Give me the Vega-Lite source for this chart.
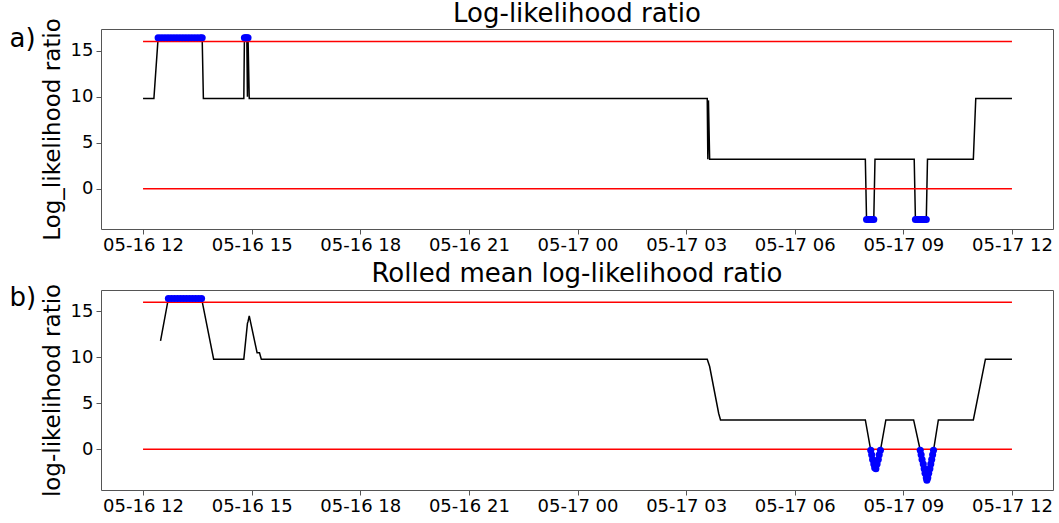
{
  "$schema": "https://vega.github.io/schema/vega-lite/v6.json",
  "padding": {"left": 8, "top": 0, "right": 5, "bottom": 3},
  "spacing": 5,
  "config": {
    "font": "DejaVu Sans",
    "view": {"stroke": "#555555", "strokeWidth": 1},
    "axis": {"grid": false, "domain": false, "tickColor": "#555555", "tickSize": 5, "labelFontSize": 18, "labelColor": "#000000", "titleFontWeight": "normal", "titleFontSize": 23, "titleColor": "#000000"},
    "title": {"fontSize": 26, "fontWeight": "normal", "color": "#000000"}
  },
  "datasets": {
    "thr": [
      {"v": 0, "t1": "2019-05-16T12:00:00", "t2": "2019-05-17T12:00:00"},
      {"v": 16, "t1": "2019-05-16T12:00:00", "t2": "2019-05-17T12:00:00"}
    ],
    "a": [
      {"t": "2019-05-16T12:00:00", "v": 9.8},
      {"t": "2019-05-16T12:18:00", "v": 9.8},
      {"t": "2019-05-16T12:25:00", "v": 16.4},
      {"t": "2019-05-16T12:30:00", "v": 16.4},
      {"t": "2019-05-16T12:35:00", "v": 16.4},
      {"t": "2019-05-16T12:40:00", "v": 16.4},
      {"t": "2019-05-16T12:45:00", "v": 16.4},
      {"t": "2019-05-16T12:50:00", "v": 16.4},
      {"t": "2019-05-16T12:55:00", "v": 16.4},
      {"t": "2019-05-16T13:00:00", "v": 16.4},
      {"t": "2019-05-16T13:05:00", "v": 16.4},
      {"t": "2019-05-16T13:10:00", "v": 16.4},
      {"t": "2019-05-16T13:15:00", "v": 16.4},
      {"t": "2019-05-16T13:20:00", "v": 16.4},
      {"t": "2019-05-16T13:25:00", "v": 16.4},
      {"t": "2019-05-16T13:30:00", "v": 16.4},
      {"t": "2019-05-16T13:35:00", "v": 16.4},
      {"t": "2019-05-16T13:38:00", "v": 16.4},
      {"t": "2019-05-16T13:40:00", "v": 9.8},
      {"t": "2019-05-16T14:47:00", "v": 9.8},
      {"t": "2019-05-16T14:48:00", "v": 16.4},
      {"t": "2019-05-16T14:50:00", "v": 16.4},
      {"t": "2019-05-16T14:52:00", "v": 16.4},
      {"t": "2019-05-16T14:53:00", "v": 10.0},
      {"t": "2019-05-16T14:54:00", "v": 16.4},
      {"t": "2019-05-16T14:56:00", "v": 9.8},
      {"t": "2019-05-17T03:35:00", "v": 9.8},
      {"t": "2019-05-17T03:36:00", "v": 3.2},
      {"t": "2019-05-17T03:37:00", "v": 9.6},
      {"t": "2019-05-17T03:39:00", "v": 3.2},
      {"t": "2019-05-17T07:57:00", "v": 3.2},
      {"t": "2019-05-17T07:59:00", "v": -3.35},
      {"t": "2019-05-17T08:02:00", "v": -3.35},
      {"t": "2019-05-17T08:05:00", "v": -3.35},
      {"t": "2019-05-17T08:08:00", "v": -3.35},
      {"t": "2019-05-17T08:11:00", "v": -3.35},
      {"t": "2019-05-17T08:13:00", "v": 3.2},
      {"t": "2019-05-17T09:18:00", "v": 3.2},
      {"t": "2019-05-17T09:20:00", "v": -3.35},
      {"t": "2019-05-17T09:23:00", "v": -3.35},
      {"t": "2019-05-17T09:26:00", "v": -3.35},
      {"t": "2019-05-17T09:29:00", "v": -3.35},
      {"t": "2019-05-17T09:32:00", "v": -3.35},
      {"t": "2019-05-17T09:35:00", "v": -3.35},
      {"t": "2019-05-17T09:38:00", "v": -3.35},
      {"t": "2019-05-17T09:40:00", "v": 3.2},
      {"t": "2019-05-17T10:56:00", "v": 3.2},
      {"t": "2019-05-17T11:00:00", "v": 9.8},
      {"t": "2019-05-17T12:00:00", "v": 9.8}
    ],
    "b": [
      {"t": "2019-05-16T12:29:00", "v": 11.8},
      {"t": "2019-05-16T12:42:00", "v": 16.4},
      {"t": "2019-05-16T12:47:00", "v": 16.4},
      {"t": "2019-05-16T12:52:00", "v": 16.4},
      {"t": "2019-05-16T12:57:00", "v": 16.4},
      {"t": "2019-05-16T13:02:00", "v": 16.4},
      {"t": "2019-05-16T13:07:00", "v": 16.4},
      {"t": "2019-05-16T13:12:00", "v": 16.4},
      {"t": "2019-05-16T13:17:00", "v": 16.4},
      {"t": "2019-05-16T13:22:00", "v": 16.4},
      {"t": "2019-05-16T13:27:00", "v": 16.4},
      {"t": "2019-05-16T13:32:00", "v": 16.4},
      {"t": "2019-05-16T13:37:00", "v": 16.4},
      {"t": "2019-05-16T13:57:00", "v": 9.8},
      {"t": "2019-05-16T14:47:00", "v": 9.8},
      {"t": "2019-05-16T14:53:00", "v": 13.7},
      {"t": "2019-05-16T14:54:00", "v": 13.9},
      {"t": "2019-05-16T14:56:00", "v": 14.5},
      {"t": "2019-05-16T15:09:00", "v": 10.5},
      {"t": "2019-05-16T15:13:00", "v": 10.5},
      {"t": "2019-05-16T15:16:00", "v": 9.8},
      {"t": "2019-05-17T03:35:00", "v": 9.8},
      {"t": "2019-05-17T03:39:00", "v": 9.0},
      {"t": "2019-05-17T03:54:00", "v": 3.9},
      {"t": "2019-05-17T03:57:00", "v": 3.2},
      {"t": "2019-05-17T07:57:00", "v": 3.2},
      {"t": "2019-05-17T08:06:00", "v": -0.1},
      {"t": "2019-05-17T08:07:30", "v": -0.6},
      {"t": "2019-05-17T08:09:00", "v": -1.1},
      {"t": "2019-05-17T08:11:00", "v": -1.6},
      {"t": "2019-05-17T08:12:30", "v": -2.0},
      {"t": "2019-05-17T08:14:30", "v": -2.1},
      {"t": "2019-05-17T08:16:30", "v": -1.6},
      {"t": "2019-05-17T08:18:30", "v": -1.1},
      {"t": "2019-05-17T08:20:00", "v": -0.6},
      {"t": "2019-05-17T08:22:00", "v": -0.1},
      {"t": "2019-05-17T08:31:00", "v": 3.2},
      {"t": "2019-05-17T09:17:00", "v": 3.2},
      {"t": "2019-05-17T09:28:00", "v": -0.1},
      {"t": "2019-05-17T09:29:30", "v": -0.6},
      {"t": "2019-05-17T09:31:00", "v": -1.1},
      {"t": "2019-05-17T09:33:00", "v": -1.6},
      {"t": "2019-05-17T09:34:30", "v": -2.1},
      {"t": "2019-05-17T09:36:00", "v": -2.6},
      {"t": "2019-05-17T09:38:00", "v": -3.1},
      {"t": "2019-05-17T09:39:00", "v": -3.35},
      {"t": "2019-05-17T09:40:30", "v": -3.1},
      {"t": "2019-05-17T09:42:00", "v": -2.6},
      {"t": "2019-05-17T09:44:00", "v": -2.1},
      {"t": "2019-05-17T09:45:30", "v": -1.6},
      {"t": "2019-05-17T09:47:00", "v": -1.1},
      {"t": "2019-05-17T09:48:30", "v": -0.6},
      {"t": "2019-05-17T09:50:00", "v": -0.1},
      {"t": "2019-05-17T09:58:00", "v": 3.2},
      {"t": "2019-05-17T10:56:00", "v": 3.2},
      {"t": "2019-05-17T11:16:00", "v": 9.8},
      {"t": "2019-05-17T12:00:00", "v": 9.8}
    ]
  },
  "vconcat": [
    {
      "title": {"text": "Log-likelihood ratio", "dy": 13},
      "width": 952,
      "height": 200,
      "layer": [
        {
          "data": {"name": "a"},
          "mark": {"type": "line", "color": "#000000", "strokeWidth": 1.5},
          "encoding": {
            "x": {"field": "t", "type": "temporal", "scale": {"domain": [{"year": 2019, "month": 5, "date": 16, "hours": 10, "minutes": 50, "seconds": 20}, {"year": 2019, "month": 5, "date": 17, "hours": 13, "minutes": 8}]}, "axis": {"title": null, "format": "%m-%d %H", "labelFlush": false, "labelPadding": 2, "values": [{"year": 2019, "month": 5, "date": 16, "hours": 12}, {"year": 2019, "month": 5, "date": 16, "hours": 15}, {"year": 2019, "month": 5, "date": 16, "hours": 18}, {"year": 2019, "month": 5, "date": 16, "hours": 21}, {"year": 2019, "month": 5, "date": 17, "hours": 0}, {"year": 2019, "month": 5, "date": 17, "hours": 3}, {"year": 2019, "month": 5, "date": 17, "hours": 6}, {"year": 2019, "month": 5, "date": 17, "hours": 9}, {"year": 2019, "month": 5, "date": 17, "hours": 12}]}},
            "y": {"field": "v", "type": "quantitative", "scale": {"domain": [-4.38, 17.36], "nice": false, "zero": false}, "axis": {"title": "Log_likelihood ratio", "values": [0, 5, 10, 15], "labelPadding": 3, "titlePadding": 6}}
          }
        },
        {
          "data": {"name": "thr"},
          "mark": {"type": "rule", "color": "#ff0000", "strokeWidth": 1.5},
          "encoding": {
            "x": {"field": "t1", "type": "temporal"},
            "x2": {"field": "t2"},
            "y": {"field": "v", "type": "quantitative", "axis": {"title": "a)", "orient": "left", "labels": false, "ticks": false, "titleAngle": 0, "titleX": -92, "titleY": 17, "titleAlign": "left", "titleBaseline": "alphabetic", "titleFontSize": 26}}
          }
        },
        {
          "data": {"name": "a"},
          "transform": [{"filter": "datum.v > 16 || datum.v < 0"}],
          "mark": {"type": "point", "filled": true, "color": "#0000ff", "size": 50, "opacity": 1},
          "encoding": {
            "x": {"field": "t", "type": "temporal"},
            "y": {"field": "v", "type": "quantitative", "axis": null}
          }
        }
      ],
      "resolve": {"axis": {"y": "independent"}}
    },
    {
      "title": {"text": "Rolled mean log-likelihood ratio", "dy": 8},
      "width": 952,
      "height": 200,
      "layer": [
        {
          "data": {"name": "b"},
          "mark": {"type": "line", "color": "#000000", "strokeWidth": 1.5},
          "encoding": {
            "x": {"field": "t", "type": "temporal", "scale": {"domain": [{"year": 2019, "month": 5, "date": 16, "hours": 10, "minutes": 50, "seconds": 20}, {"year": 2019, "month": 5, "date": 17, "hours": 13, "minutes": 8}]}, "axis": {"title": null, "format": "%m-%d %H", "labelFlush": false, "labelPadding": 2, "values": [{"year": 2019, "month": 5, "date": 16, "hours": 12}, {"year": 2019, "month": 5, "date": 16, "hours": 15}, {"year": 2019, "month": 5, "date": 16, "hours": 18}, {"year": 2019, "month": 5, "date": 16, "hours": 21}, {"year": 2019, "month": 5, "date": 17, "hours": 0}, {"year": 2019, "month": 5, "date": 17, "hours": 3}, {"year": 2019, "month": 5, "date": 17, "hours": 6}, {"year": 2019, "month": 5, "date": 17, "hours": 9}, {"year": 2019, "month": 5, "date": 17, "hours": 12}]}},
            "y": {"field": "v", "type": "quantitative", "scale": {"domain": [-4.42, 17.32], "nice": false, "zero": false}, "axis": {"title": "log-likelihood ratio", "values": [0, 5, 10, 15], "labelPadding": 3, "titlePadding": 6}}
          }
        },
        {
          "data": {"name": "thr"},
          "mark": {"type": "rule", "color": "#ff0000", "strokeWidth": 1.5},
          "encoding": {
            "x": {"field": "t1", "type": "temporal"},
            "x2": {"field": "t2"},
            "y": {"field": "v", "type": "quantitative", "axis": {"title": "b)", "orient": "left", "labels": false, "ticks": false, "titleAngle": 0, "titleX": -92, "titleY": 15, "titleAlign": "left", "titleBaseline": "alphabetic", "titleFontSize": 26}}
          }
        },
        {
          "data": {"name": "b"},
          "transform": [{"filter": "datum.v > 16 || datum.v < 0"}],
          "mark": {"type": "point", "filled": true, "color": "#0000ff", "size": 50, "opacity": 1},
          "encoding": {
            "x": {"field": "t", "type": "temporal"},
            "y": {"field": "v", "type": "quantitative", "axis": null}
          }
        }
      ],
      "resolve": {"axis": {"y": "independent"}}
    }
  ]
}
